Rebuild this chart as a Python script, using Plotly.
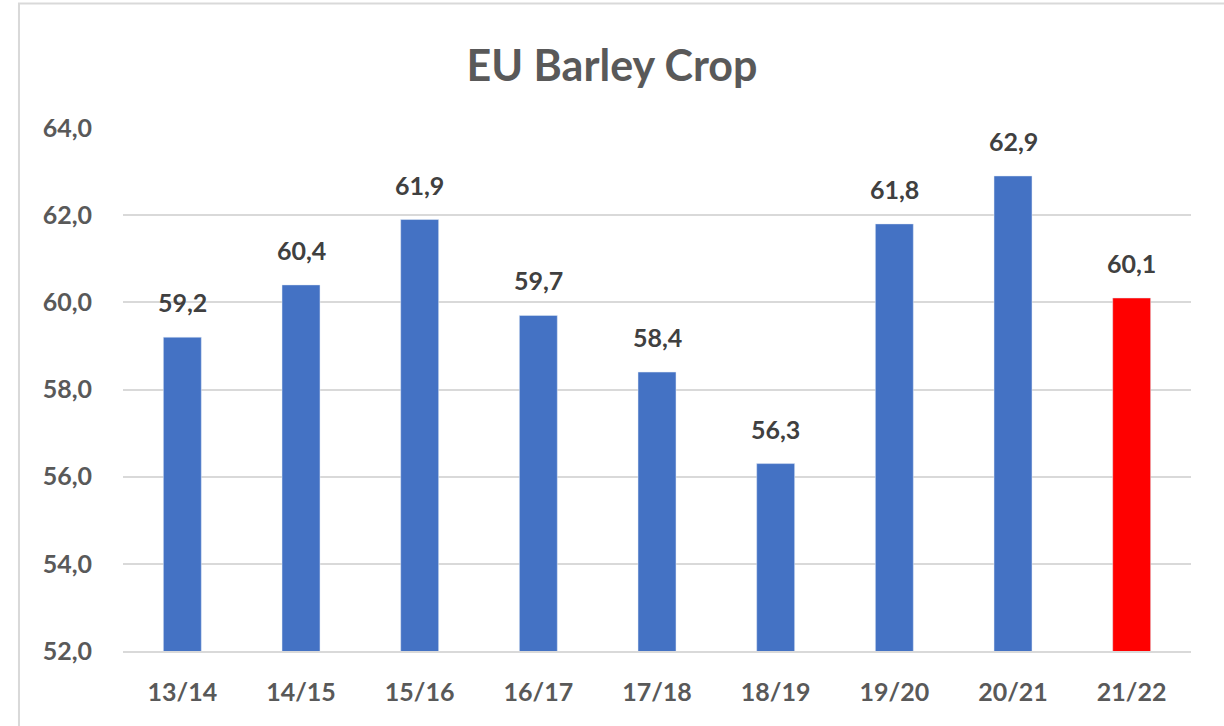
import plotly.graph_objects as go

seasons = ["13/14", "14/15", "15/16", "16/17", "17/18", "18/19", "19/20", "20/21", "21/22"]
crop = [59.2, 60.4, 61.9, 59.7, 58.4, 56.3, 61.8, 62.9, 60.1]
bar_colors = ["#4472C4"] * 8 + ["#FF0000"]

fig = go.Figure()
fig.add_trace(go.Bar(x=seasons, y=crop, marker_color=bar_colors))

# etiquetas de datos encima de cada barra
for s, v in zip(seasons, crop):
    fig.add_annotation(
        x=s, y=v, text=f"<b>{v:.1f}</b>".replace(".", ","),
        showarrow=False, yanchor="bottom", yshift=18,
        font=dict(family="Lato", size=25, color="#404040"),
    )

# borde del gráfico
fig.add_shape(
    type="rect", xref="paper", yref="paper",
    x0=-0.0974, x1=1.1, y0=-0.2, y1=1.238,
    line=dict(color="#D9D9D9", width=2), layer="below",
)

fig.update_layout(
    width=1224,
    height=726,
    margin=dict(l=123, r=33, t=128, b=75),
    plot_bgcolor="white",
    paper_bgcolor="white",
    bargap=0.68,
    showlegend=False,
    title=dict(
        text="<b>EU Barley Crop</b>",
        x=0.5, xanchor="center", y=0.909, yanchor="middle",
        font=dict(family="Lato", size=43, color="#595959"),
    ),
    xaxis=dict(
        tickfont=dict(family="Lato", size=25, color="#595959", weight="bold"),
        showline=True, linecolor="#D9D9D9", linewidth=2,
        ticks="", ticklabelstandoff=18,
    ),
    yaxis=dict(
        range=[52, 64],
        dtick=2,
        tickformat=".1f",
        tickfont=dict(family="Lato", size=25, color="#595959", weight="bold"),
        gridcolor="#D9D9D9", gridwidth=1.5,
        zeroline=False,
        ticklabelstandoff=30,
    ),
    separators=",.",
)

fig.write_html(
    "out.html",
    config={"displayModeBar": False},
    post_script="document.body.style.margin='0';",
)
